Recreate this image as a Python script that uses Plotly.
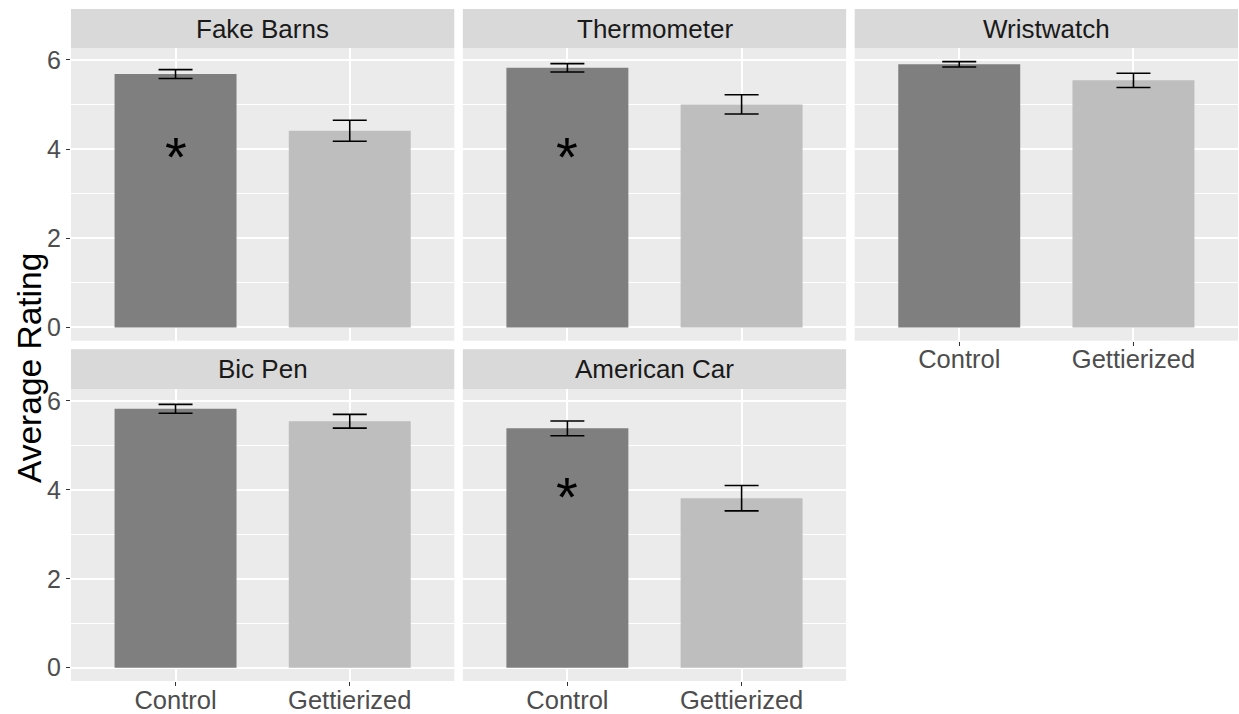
import plotly.graph_objects as go

panels = ["Fake Barns", "Thermometer", "Wristwatch", "Bic Pen", "American Car"]
conditions = ["Control", "Gettierized"]
means = {
    "Fake Barns": [5.68, 4.41],
    "Thermometer": [5.82, 5.00],
    "Wristwatch": [5.90, 5.54],
    "Bic Pen": [5.82, 5.54],
    "American Car": [5.38, 3.81],
}
ses = {
    "Fake Barns": [0.10, 0.235],
    "Thermometer": [0.095, 0.215],
    "Wristwatch": [0.06, 0.16],
    "Bic Pen": [0.10, 0.155],
    "American Car": [0.165, 0.285],
}
significant = ["Fake Barns", "Thermometer", "American Car"]
star_y = 4
y_ticks = [0, 2, 4, 6]

bar_colors = ["#7F7F7F", "#BEBEBE"]
FONT = "Liberation Sans, Arial, sans-serif"

W, H = 1239, 714
ml, mr, mt, mb = 71, 1, 9, 33
pw = W - ml - mr
ph = H - mt - mb

def fx(px):
    return (px - ml) / pw

def fy(py):
    return (H - mb - py) / ph

panel_w = 383.3
gap = (pw - 3 * panel_w) / 2
xdoms = []
for c in range(3):
    x0 = ml + c * (panel_w + gap)
    xdoms.append([fx(x0), min(1.0, fx(x0 + panel_w))])

rows = {
    0: dict(strip=(9, 48.3), panel=(48.3, 340.7)),
    1: dict(strip=(349.3, 389.3), panel=(389.3, 681)),
}

fig = go.Figure()
layout = dict(
    width=W, height=H,
    margin=dict(l=ml, r=mr, t=mt, b=mb, autoexpand=False),
    paper_bgcolor="white",
    plot_bgcolor="#EBEBEB",
    showlegend=False,
    font=dict(family=FONT, color="#4D4D4D"),
    shapes=[], annotations=[],
)

yrange = [-0.298, 6.258]

for i, name in enumerate(panels):
    r, c = divmod(i, 3)
    k = i + 1
    xa = "x" if k == 1 else f"x{k}"
    ya = "y" if k == 1 else f"y{k}"
    fig.add_trace(go.Bar(
        x=conditions, y=means[name],
        width=0.7,
        marker=dict(color=bar_colors, line=dict(width=0)),
        error_y=dict(type="data", array=ses[name], visible=True,
                     color="black", thickness=1.6, width=17),
        xaxis=xa, yaxis=ya, hoverinfo="skip",
    ))
    p0, p1 = rows[r]["panel"]
    s0, s1 = rows[r]["strip"]
    show_x = (r == 1) or (c == 2)
    show_y = (c == 0)
    layout["xaxis" if k == 1 else f"xaxis{k}"] = dict(
        domain=xdoms[c], anchor=ya, type="category",
        categoryorder="array", categoryarray=conditions,
        range=[-0.6, 1.6], showgrid=True, gridcolor="white", gridwidth=1.5,
        showticklabels=show_x, ticks="outside" if show_x else "",
        ticklen=4, tickwidth=1.2, tickcolor="#333333",
        ticklabelstandoff=-8,
        tickfont=dict(size=25.5, color="#4D4D4D", family=FONT),
        showline=False, zeroline=False, fixedrange=True, automargin=False,
    )
    layout["yaxis" if k == 1 else f"yaxis{k}"] = dict(
        domain=[max(0.0, fy(p1)), fy(p0)], anchor=xa,
        range=yrange, tickvals=y_ticks,
        showgrid=True, gridcolor="white", gridwidth=1.5,
        minor=dict(dtick=1, tick0=0, showgrid=True, gridcolor="white", gridwidth=0.8),
        showticklabels=show_y, ticks="outside" if show_y else "",
        ticklen=4, tickwidth=1.2, tickcolor="#333333",
        tickfont=dict(size=25, color="#4D4D4D", family=FONT),
        showline=False, zeroline=False, fixedrange=True, automargin=False,
    )
    # strip
    layout["shapes"].append(dict(
        type="rect", xref="paper", yref="paper",
        x0=xdoms[c][0], x1=xdoms[c][1], y0=fy(s1), y1=fy(s0),
        fillcolor="#D9D9D9", line=dict(width=0), layer="below",
    ))
    layout["annotations"].append(dict(
        xref="paper", yref="paper",
        x=(xdoms[c][0] + xdoms[c][1]) / 2, y=(fy(s0) + fy(s1)) / 2,
        text=name, showarrow=False, xanchor="center", yanchor="middle",
        font=dict(size=26, color="#1A1A1A", family=FONT),
    ))
    if name in significant:
        layout["annotations"].append(dict(
            xref=xa, yref=ya, x=conditions[0], y=star_y,
            text="*", showarrow=False, xanchor="center", yanchor="middle",
            yshift=-7,
            font=dict(size=56, color="black", family=FONT),
        ))

layout["annotations"].append(dict(
    xref="paper", yref="paper", x=fx(29), y=fy(368),
    text="Average Rating", textangle=-90, showarrow=False,
    xanchor="center", yanchor="middle",
    font=dict(size=33.5, color="black", family=FONT),
))

fig.update_layout(**layout)
fig.write_html("out.html", config={"displayModeBar": False},
               post_script="document.body.style.margin='0';document.body.style.overflow='hidden';")
